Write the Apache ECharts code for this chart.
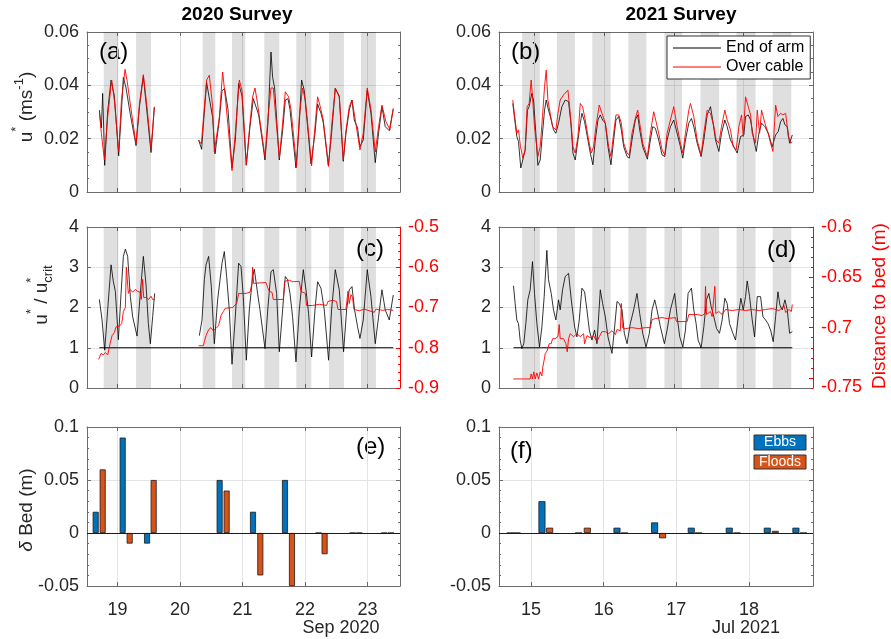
<!DOCTYPE html>
<html>
<head>
<meta charset="utf-8">
<title>Survey shear velocity and bed change</title>
<script src="https://cdn.jsdelivr.net/npm/echarts@6/dist/echarts.min.js"></script>
<style>
  html, body { margin: 0; padding: 0; background: #fff; }
  #chart { width: 891px; height: 639px; }
</style>
</head>
<body>
<div id="chart"></div>
<script>
// ---- data (days of month) ----
const ticks2020 = [19, 20, 21, 22, 23];
const ticks2021 = [15, 16, 17, 18];

const bands2020 = [[18.777, 19.012], [19.295, 19.535], [20.361, 20.564], [20.831, 21.044],
  [21.348, 21.588], [21.860, 22.100], [22.383, 22.623], [22.895, 23.135]];
const bands2021 = [[14.822, 15.077], [15.321, 15.580], [15.830, 16.094], [16.348, 16.607],
  [16.866, 17.120], [17.384, 17.652], [17.902, 18.175], [18.420, 18.688]];

// u* (m/s), 2020
const endOfArm2020 = [
  [18.708, 0.0307], [18.74, 0.024], [18.761, 0.037], [18.777, 0.024], [18.793, 0.010], [18.84, 0.030],
  [18.895, 0.042], [18.948, 0.036], [19.017, 0.0136], [19.06, 0.030], [19.092, 0.043], [19.135, 0.039],
  [19.204, 0.029], [19.295, 0.0174], [19.35, 0.032], [19.412, 0.0434], [19.47, 0.030], [19.535, 0.0148],
  [19.588, 0.0317], [20.0, null],
  [20.297, 0.0195], [20.345, 0.016], [20.372, 0.025], [20.425, 0.041], [20.457, 0.041], [20.521, 0.028],
  [20.559, 0.0143], [20.628, 0.027], [20.671, 0.038], [20.713, 0.0388], [20.767, 0.031], [20.831, 0.009],
  [20.884, 0.0195], [20.937, 0.0407], [20.991, 0.036], [21.060, 0.010], [21.119, 0.0245], [21.172, 0.035],
  [21.204, 0.0345], [21.257, 0.029], [21.359, 0.012], [21.407, 0.026], [21.455, 0.0525], [21.481, 0.043],
  [21.513, 0.039], [21.588, 0.012], [21.641, 0.023], [21.684, 0.0345], [21.727, 0.035], [21.759, 0.031],
  [21.855, 0.009], [21.908, 0.026], [21.945, 0.042], [21.988, 0.038], [22.041, 0.0245], [22.095, 0.0106],
  [22.159, 0.022], [22.201, 0.033], [22.255, 0.0295], [22.292, 0.026], [22.372, 0.010], [22.425, 0.022],
  [22.484, 0.0388], [22.548, 0.0357], [22.612, 0.0115], [22.655, 0.022], [22.708, 0.0307], [22.751, 0.0345],
  [22.788, 0.027], [22.841, 0.024], [22.879, 0.017], [22.932, 0.0195], [22.996, 0.0382], [23.055, 0.0295],
  [23.124, 0.011], [23.177, 0.022], [23.231, 0.032], [23.284, 0.0245], [23.348, 0.023], [23.412, 0.031]
];
const overCable2020 = [
  [18.708, 0.0298], [18.74, 0.022], [18.788, 0.012], [18.84, 0.028], [18.905, 0.042], [18.95, 0.034],
  [19.017, 0.015], [19.06, 0.034], [19.119, 0.046], [19.15, 0.042], [19.215, 0.031], [19.295, 0.018],
  [19.35, 0.033], [19.412, 0.044], [19.47, 0.032], [19.535, 0.016], [19.588, 0.032], [20.0, null],
  [20.297, 0.0195], [20.34, 0.018], [20.425, 0.042], [20.468, 0.0438], [20.521, 0.032], [20.548, 0.015],
  [20.628, 0.028], [20.681, 0.045], [20.735, 0.033], [20.831, 0.008], [20.884, 0.022], [20.948, 0.042],
  [20.991, 0.038], [21.060, 0.0102], [21.119, 0.0258], [21.161, 0.0357], [21.199, 0.039], [21.241, 0.033],
  [21.359, 0.0133], [21.407, 0.028], [21.455, 0.039], [21.492, 0.039], [21.588, 0.0127], [21.641, 0.0258],
  [21.684, 0.0376], [21.737, 0.0357], [21.775, 0.031], [21.865, 0.0096], [21.908, 0.028], [21.961, 0.039],
  [22.004, 0.0345], [22.041, 0.026], [22.105, 0.0098], [22.159, 0.0245], [22.201, 0.0357], [22.244, 0.032],
  [22.292, 0.027], [22.377, 0.0096], [22.425, 0.0245], [22.484, 0.039], [22.548, 0.036], [22.612, 0.012],
  [22.655, 0.023], [22.708, 0.032], [22.751, 0.0345], [22.788, 0.0295], [22.879, 0.0158], [22.932, 0.022],
  [22.996, 0.039], [23.055, 0.031], [23.124, 0.015], [23.177, 0.0245], [23.231, 0.0326], [23.295, 0.0264],
  [23.359, 0.0233], [23.412, 0.0314]
];

// u* (m/s), 2021
const endOfArm2021 = [
  [14.688, 0.0332], [14.722, 0.0258], [14.746, 0.0208], [14.770, 0.0189], [14.803, 0.009], [14.827, 0.0086],
  [14.866, 0.0158], [14.899, 0.0307], [14.923, 0.032], [14.962, 0.037], [14.986, 0.0345], [15.019, 0.022],
  [15.048, 0.010], [15.082, 0.012], [15.106, 0.0195], [15.144, 0.0307], [15.168, 0.0345], [15.201, 0.0307],
  [15.240, 0.027], [15.273, 0.0233], [15.307, 0.022], [15.345, 0.0258], [15.393, 0.032], [15.441, 0.0345],
  [15.489, 0.0339], [15.523, 0.0258], [15.552, 0.0146], [15.585, 0.012], [15.624, 0.0195], [15.657, 0.0258],
  [15.681, 0.0295], [15.719, 0.0264], [15.767, 0.0195], [15.801, 0.0146], [15.839, 0.0102], [15.873, 0.0195],
  [15.911, 0.027], [15.945, 0.0289], [15.978, 0.027], [16.017, 0.0258], [16.055, 0.017], [16.098, 0.0102],
  [16.137, 0.0195], [16.170, 0.027], [16.209, 0.0283], [16.247, 0.0233], [16.281, 0.017], [16.329, 0.0133],
  [16.362, 0.0127], [16.400, 0.0195], [16.448, 0.027], [16.482, 0.0289], [16.511, 0.0233], [16.554, 0.017],
  [16.621, 0.0123], [16.664, 0.0195], [16.698, 0.0245], [16.736, 0.0239], [16.784, 0.0195], [16.832, 0.0139],
  [16.871, 0.0133], [16.904, 0.0195], [16.952, 0.0245], [17.000, 0.027], [17.048, 0.022], [17.096, 0.017],
  [17.130, 0.0127], [17.168, 0.0195], [17.216, 0.0258], [17.254, 0.0276], [17.288, 0.0245], [17.336, 0.0183],
  [17.393, 0.0133], [17.432, 0.0195], [17.480, 0.0289], [17.528, 0.032], [17.566, 0.0258], [17.600, 0.0195],
  [17.648, 0.0152], [17.686, 0.022], [17.734, 0.027], [17.767, 0.0245], [17.815, 0.0195], [17.863, 0.017],
  [17.911, 0.0146], [17.959, 0.0208], [18.007, 0.0214], [18.031, 0.0283], [18.070, 0.0289], [18.103, 0.027],
  [18.151, 0.0195], [18.185, 0.0152], [18.223, 0.022], [18.261, 0.0258], [18.309, 0.0245], [18.357, 0.022],
  [18.415, 0.017], [18.463, 0.0214], [18.501, 0.0227], [18.535, 0.0264], [18.568, 0.0276], [18.597, 0.0252],
  [18.631, 0.0245], [18.664, 0.0183], [18.703, 0.0214]
];
const overCable2021 = [
  [14.688, 0.0345], [14.722, 0.027], [14.746, 0.022], [14.770, 0.0233], [14.799, 0.017], [14.832, 0.0127],
  [14.866, 0.0158], [14.894, 0.032], [14.923, 0.0332], [14.952, 0.042], [14.971, 0.0357], [15.000, 0.0245],
  [15.048, 0.0133], [15.082, 0.017], [15.115, 0.0283], [15.144, 0.0395], [15.168, 0.0457], [15.192, 0.0345],
  [15.225, 0.0295], [15.259, 0.0245], [15.307, 0.0233], [15.336, 0.0295], [15.369, 0.0345], [15.417, 0.0364],
  [15.480, 0.0382], [15.513, 0.0295], [15.552, 0.017], [15.585, 0.0146], [15.624, 0.0208], [15.657, 0.0332],
  [15.691, 0.032], [15.729, 0.027], [15.777, 0.0195], [15.815, 0.0146], [15.849, 0.017], [15.882, 0.0245],
  [15.930, 0.0326], [15.969, 0.0295], [16.017, 0.0258], [16.065, 0.017], [16.098, 0.0133], [16.137, 0.022],
  [16.170, 0.0289], [16.209, 0.0289], [16.247, 0.0258], [16.281, 0.0183], [16.329, 0.0146], [16.362, 0.0139],
  [16.400, 0.022], [16.448, 0.0276], [16.482, 0.0307], [16.511, 0.0258], [16.554, 0.0183], [16.621, 0.0133],
  [16.664, 0.022], [16.712, 0.0301], [16.746, 0.0264], [16.784, 0.022], [16.832, 0.0158], [16.871, 0.0139],
  [16.904, 0.022], [16.952, 0.027], [17.000, 0.032], [17.048, 0.0245], [17.096, 0.0183], [17.130, 0.0146],
  [17.168, 0.022], [17.216, 0.0307], [17.240, 0.0332], [17.288, 0.0283], [17.336, 0.0195], [17.393, 0.0139],
  [17.432, 0.022], [17.480, 0.0307], [17.528, 0.0295], [17.576, 0.0245], [17.609, 0.0195], [17.648, 0.0183],
  [17.686, 0.0245], [17.734, 0.0307], [17.767, 0.027], [17.815, 0.0233], [17.854, 0.017], [17.897, 0.0158],
  [17.935, 0.0245], [17.974, 0.0289], [17.998, 0.0208], [18.031, 0.0357], [18.070, 0.032], [18.103, 0.0289],
  [18.127, 0.022], [18.175, 0.0183], [18.199, 0.0307], [18.233, 0.022], [18.261, 0.0307], [18.309, 0.0258],
  [18.357, 0.022], [18.391, 0.0183], [18.424, 0.0152], [18.463, 0.0326], [18.496, 0.0283], [18.535, 0.0295],
  [18.568, 0.0289], [18.607, 0.0295], [18.645, 0.0208], [18.679, 0.0183], [18.703, 0.0189]
];

// u*/u*crit, 2020 and 2021
const ratio2020 = [
  [18.708, 2.2], [18.751, 1.69], [18.793, 0.94], [18.841, 1.94], [18.895, 3.06], [18.932, 2.64],
  [18.964, 2.4], [19.012, 1.2], [19.055, 2.35], [19.092, 3.27], [19.124, 3.45], [19.161, 3.27],
  [19.204, 2.27], [19.241, 1.77], [19.311, 1.29], [19.359, 2.27], [19.412, 3.27], [19.455, 2.56],
  [19.492, 1.6], [19.524, 1.1], [19.561, 1.77], [19.593, 2.35], [20.0, null],
  [20.308, 1.3], [20.351, 1.69], [20.388, 2.69], [20.415, 3.06], [20.457, 3.27], [20.500, 2.52],
  [20.548, 1.1], [20.601, 2.19], [20.671, 3.1], [20.708, 3.39], [20.745, 2.77], [20.788, 1.94],
  [20.831, 0.59], [20.884, 1.77], [20.937, 3.1], [20.975, 3.02], [21.012, 2.27], [21.060, 0.69],
  [21.108, 1.94], [21.161, 2.77], [21.188, 2.95], [21.241, 2.35], [21.279, 1.94], [21.359, 0.98],
  [21.407, 2.02], [21.455, 2.89], [21.492, 2.94], [21.545, 2.35], [21.588, 0.9], [21.641, 1.94],
  [21.684, 2.77], [21.721, 2.69], [21.759, 2.35], [21.801, 1.77], [21.855, 0.65], [21.908, 1.94],
  [21.972, 2.94], [22.015, 2.44], [22.057, 1.85], [22.105, 0.77], [22.159, 1.94], [22.201, 2.64],
  [22.255, 2.48], [22.308, 1.94], [22.377, 0.69], [22.425, 1.94], [22.484, 2.94], [22.548, 2.44],
  [22.617, 0.9], [22.665, 1.94], [22.708, 2.44], [22.751, 2.52], [22.793, 1.94], [22.841, 1.52],
  [22.879, 1.23], [22.932, 1.69], [22.996, 2.94], [23.055, 2.27], [23.124, 1.1], [23.177, 1.77],
  [23.231, 2.44], [23.284, 1.94], [23.348, 1.69], [23.412, 2.31]
];
const ratio2021 = [
  [14.698, 2.54], [14.722, 2.1], [14.746, 1.69], [14.770, 1.6], [14.794, 1.19], [14.818, 0.98],
  [14.846, 1.1], [14.875, 1.6], [14.904, 2.19], [14.938, 2.44], [14.971, 3.14], [15.000, 2.35],
  [15.034, 1.6], [15.072, 1.02], [15.106, 1.52], [15.139, 2.27], [15.177, 3.42], [15.201, 2.69],
  [15.240, 2.35], [15.273, 1.94], [15.307, 1.69], [15.345, 2.19], [15.369, 1.94], [15.403, 2.44],
  [15.441, 2.77], [15.489, 2.85], [15.528, 2.19], [15.576, 1.52], [15.609, 1.27], [15.643, 1.69],
  [15.681, 2.48], [15.719, 2.39], [15.753, 1.94], [15.787, 1.44], [15.825, 1.19], [15.863, 1.44],
  [15.897, 1.1], [15.945, 2.44], [15.978, 2.1], [16.017, 1.77], [16.055, 1.27], [16.113, 0.86],
  [16.151, 1.52], [16.185, 2.15], [16.218, 2.1], [16.257, 1.94], [16.290, 1.36], [16.329, 1.1],
  [16.376, 1.6], [16.424, 1.94], [16.472, 2.35], [16.511, 1.85], [16.554, 1.36], [16.602, 1.02],
  [16.650, 1.36], [16.688, 1.94], [16.727, 2.19], [16.760, 1.94], [16.808, 1.52], [16.866, 1.1],
  [16.904, 1.44], [16.952, 1.94], [17.014, 2.35], [17.048, 1.77], [17.086, 1.27], [17.130, 1.02],
  [17.168, 1.44], [17.206, 2.35], [17.254, 2.48], [17.288, 1.94], [17.321, 1.6], [17.350, 1.19],
  [17.393, 1.0], [17.432, 1.52], [17.470, 2.19], [17.504, 2.35], [17.537, 2.02], [17.576, 1.77],
  [17.614, 1.48], [17.657, 1.36], [17.695, 1.69], [17.734, 2.23], [17.767, 2.1], [17.801, 1.6],
  [17.849, 1.36], [17.887, 1.19], [17.926, 1.77], [17.964, 2.23], [17.998, 1.94], [18.031, 2.27],
  [18.055, 2.66], [18.089, 2.27], [18.127, 1.69], [18.161, 1.27], [18.199, 2.27], [18.247, 2.27],
  [18.281, 1.77], [18.319, 1.69], [18.353, 1.6], [18.391, 1.44], [18.429, 1.15], [18.463, 1.77],
  [18.496, 2.39], [18.525, 2.06], [18.559, 1.94], [18.597, 2.19], [18.631, 1.94], [18.664, 1.36],
  [18.703, 1.4]
];
const critLine2020 = [18.708, 23.412];
const critLine2021 = [14.698, 18.703];

// distance to bed (m)
const distBed2020 = [
  [18.697, -0.829], [18.729, -0.829], [18.735, -0.814], [18.772, -0.818], [18.804, -0.812], [18.841, -0.818],
  [18.868, -0.814], [18.879, -0.79], [18.911, -0.77], [18.948, -0.762], [18.975, -0.748], [19.001, -0.752],
  [19.028, -0.746], [19.065, -0.74], [19.092, -0.71], [19.124, -0.70], [19.140, -0.60], [19.172, -0.665],
  [19.199, -0.655], [19.241, -0.662], [19.284, -0.655], [19.321, -0.66], [19.359, -0.662], [19.380, -0.68],
  [19.401, -0.63], [19.417, -0.675], [19.455, -0.675], [19.497, -0.68], [19.535, -0.672], [19.561, -0.68],
  [19.593, -0.68], [20.0, null],
  [20.297, -0.795], [20.372, -0.795], [20.388, -0.785], [20.415, -0.77], [20.457, -0.755], [20.495, -0.75],
  [20.532, -0.758], [20.575, -0.752], [20.617, -0.745], [20.655, -0.72], [20.692, -0.71], [20.724, -0.702],
  [20.841, -0.70], [20.905, -0.69], [20.937, -0.665], [21.055, -0.665], [21.119, -0.662], [21.151, -0.64],
  [21.161, -0.60], [21.177, -0.64], [21.375, -0.638], [21.401, -0.65], [21.428, -0.66], [21.471, -0.662],
  [21.492, -0.68], [21.652, -0.68], [21.673, -0.635], [21.748, -0.632], [21.801, -0.636], [21.908, -0.635],
  [21.935, -0.66], [22.004, -0.665], [22.025, -0.695], [22.121, -0.695], [22.228, -0.692], [22.345, -0.695],
  [22.367, -0.685], [22.441, -0.682], [22.505, -0.685], [22.527, -0.705], [22.655, -0.705], [22.687, -0.66],
  [22.708, -0.69], [22.735, -0.668], [22.761, -0.675], [22.783, -0.705], [22.868, -0.708], [22.948, -0.704],
  [23.028, -0.708], [23.108, -0.712], [23.135, -0.704], [23.241, -0.707], [23.321, -0.705], [23.412, -0.707]
];
const distBed2021 = [
  [14.698, -0.751], [14.938, -0.751], [14.952, -0.746], [14.971, -0.751], [14.990, -0.744], [15.009, -0.751],
  [15.034, -0.745], [15.058, -0.751], [15.082, -0.744], [15.106, -0.748], [15.120, -0.739], [15.144, -0.730],
  [15.153, -0.726], [15.182, -0.723], [15.211, -0.716], [15.240, -0.716], [15.259, -0.711], [15.297, -0.711],
  [15.336, -0.709], [15.355, -0.697], [15.369, -0.711], [15.417, -0.711], [15.451, -0.716], [15.470, -0.724],
  [15.489, -0.711], [15.513, -0.706], [15.561, -0.709], [15.609, -0.706], [15.657, -0.709], [15.705, -0.706],
  [15.719, -0.716], [15.753, -0.708], [15.801, -0.710], [15.849, -0.708], [15.897, -0.714], [15.930, -0.709],
  [15.969, -0.704], [16.017, -0.704], [16.065, -0.706], [16.113, -0.703], [16.161, -0.707], [16.185, -0.702],
  [16.233, -0.703], [16.247, -0.676], [16.262, -0.700], [16.305, -0.701], [16.400, -0.700], [16.496, -0.701],
  [16.592, -0.700], [16.664, -0.700], [16.688, -0.692], [16.736, -0.691], [16.832, -0.690], [16.904, -0.691],
  [17.024, -0.690], [17.038, -0.694], [17.192, -0.694], [17.216, -0.687], [17.336, -0.687], [17.408, -0.688],
  [17.446, -0.686], [17.456, -0.659], [17.470, -0.687], [17.528, -0.684], [17.551, -0.689], [17.590, -0.659],
  [17.604, -0.686], [17.647, -0.684], [17.695, -0.687], [17.744, -0.682], [17.839, -0.683], [17.935, -0.682],
  [18.031, -0.683], [18.127, -0.682], [18.223, -0.683], [18.319, -0.682], [18.415, -0.681], [18.511, -0.683],
  [18.559, -0.680], [18.583, -0.678], [18.607, -0.685], [18.655, -0.682], [18.689, -0.684], [18.703, -0.677]
];

// bed change per half tide (m)
const ebbDays2020 = [18.649, 19.081, 19.471, 20.633, 21.167, 21.679, 22.217, 22.761, 23.268];
const ebbBed2020 = [0.02, 0.09, -0.01, 0.05, 0.02, 0.05, 0, 0, 0];
const floodDays2020 = [18.761, 19.193, 19.577, 20.745, 21.284, 21.791, 22.313, 22.868, 23.375];
const floodBed2020 = [0.06, -0.01, 0.05, 0.04, -0.04, -0.05, -0.02, 0, 0];
const ebbDays2021 = [14.716, 15.151, 15.656, 16.183, 16.701, 17.205, 17.728, 18.251, 18.645];
const ebbBed2021 = [0, 0.03, 0, 0.005, 0.01, 0.005, 0.005, 0.005, 0.005];
const floodDays2021 = [14.807, 15.257, 15.775, 16.284, 16.811, 17.306, 17.834, 18.361, 18.75];
const floodBed2021 = [0, 0.005, 0.005, 0, -0.005, 0, 0, 0.002, 0];

// right-hand tick labels of panel (d)
const distTicks2021 = [-0.75, -0.7, -0.65, -0.6];

// ---- styling ----
const FAM = '"Liberation Sans", Arial, Helvetica, sans-serif';
const AX = '#6b6b6b';
const TXT = '#262626';
const GRIDC = '#e4e4e4';
const RED = '#ff0000';
const BLUE = '#0072BD';
const ORANGE = '#D95319';

function xAxes(grid, min, max, ticks, labels) {
  return [
    {
      type: 'value', gridIndex: grid, min: min, max: max, position: 'bottom',
      axisLine: { show: true, onZero: false, lineStyle: { color: AX } },
      axisTick: { show: true, inside: true, length: 4, customValues: ticks, lineStyle: { color: AX } },
      axisLabel: { show: labels, customValues: ticks, fontSize: 18, fontFamily: FAM, color: TXT, margin: 15 },
      splitLine: { show: true, lineStyle: { color: GRIDC } }
    },
    {
      type: 'value', gridIndex: grid, min: min, max: max, position: 'top',
      axisLine: { show: true, onZero: false, lineStyle: { color: AX } },
      axisTick: { show: true, inside: true, length: 4, customValues: ticks, lineStyle: { color: AX } },
      axisLabel: { show: false },
      splitLine: { show: false }
    }
  ];
}

function yLeft(grid, min, max, interval, minor) {
  return {
    type: 'value', gridIndex: grid, min: min, max: max, interval: interval, position: 'left',
    axisLine: { show: true, onZero: false, lineStyle: { color: AX } },
    axisTick: { show: true, inside: true, length: 4, lineStyle: { color: AX } },
    minorTick: { show: minor > 0, splitNumber: minor || 5, length: 2, lineStyle: { color: AX } },
    axisLabel: { fontSize: 18, fontFamily: FAM, color: TXT, margin: 8 },
    splitLine: { show: true, lineStyle: { color: GRIDC } }
  };
}

function yMirror(grid, min, max, interval, minor) {
  return {
    type: 'value', gridIndex: grid, min: min, max: max, interval: interval, position: 'right',
    axisLine: { show: true, onZero: false, lineStyle: { color: AX } },
    axisTick: { show: true, inside: true, length: 4, lineStyle: { color: AX } },
    minorTick: { show: minor > 0, splitNumber: minor || 5, length: 2, lineStyle: { color: AX } },
    axisLabel: { show: false },
    splitLine: { show: false }
  };
}

const grids = [
  { left: 87, top: 32, width: 313, height: 160 },
  { left: 499, top: 32, width: 314, height: 160 },
  { left: 87, top: 227, width: 313, height: 161 },
  { left: 499, top: 227, width: 314, height: 161 },
  { left: 87, top: 427, width: 313, height: 159 },
  { left: 499, top: 427, width: 314, height: 159 }
];

const xAxisList = [].concat(
  xAxes(0, 18.51, 23.52, ticks2020, false),
  xAxes(1, 14.49, 19.0, ticks2021, false),
  xAxes(2, 18.51, 23.52, ticks2020, false),
  xAxes(3, 14.49, 19.0, ticks2021, false),
  xAxes(4, 18.51, 23.52, ticks2020, true),
  xAxes(5, 14.56, 18.88, ticks2021, true)
);

const yAxisList = [
  yLeft(0, 0, 0.06, 0.02, 4),            // 0
  yMirror(0, 0, 0.06, 0.02, 4),          // 1
  yLeft(1, 0, 0.06, 0.02, 4),            // 2
  yMirror(1, 0, 0.06, 0.02, 4),          // 3
  yLeft(2, 0, 4, 1, 0),                  // 4
  {                                      // 5 red right (c)
    type: 'value', gridIndex: 2, min: -0.9, max: -0.5, interval: 0.1, position: 'right',
    axisLine: { show: true, onZero: false, lineStyle: { color: RED } },
    axisTick: { show: true, inside: true, length: 4, lineStyle: { color: RED } },
    minorTick: { show: true, splitNumber: 5, length: 2, lineStyle: { color: RED } },
    axisLabel: { fontSize: 18, fontFamily: FAM, color: RED, margin: 8 },
    splitLine: { show: false }
  },
  yLeft(3, 0, 4, 1, 0),                  // 6
  {                                      // 7 red right (d)
    type: 'value', gridIndex: 3, min: -0.76, max: -0.6, position: 'right',
    axisLine: { show: true, onZero: false, lineStyle: { color: RED } },
    axisTick: { show: true, inside: true, length: 4, customValues: distTicks2021, lineStyle: { color: RED } },
    axisLabel: {
      fontSize: 18, fontFamily: FAM, color: RED, margin: 8, customValues: distTicks2021,
      formatter: v => (Math.abs(v + 0.75) < 1e-6 ? '{low|-0.75}' : String(v)),
      rich: { low: { fontSize: 18, fontFamily: FAM, color: RED, padding: [18, 0, 0, 0] } }
    },
    splitLine: { show: false }
  },
  {                                      // 8 red minor ticks (d)
    type: 'value', gridIndex: 3, min: -0.76, max: -0.6, interval: 0.01, position: 'right',
    axisLine: { show: false, onZero: false },
    axisTick: { show: true, inside: true, length: 2, lineStyle: { color: RED } },
    axisLabel: { show: false },
    splitLine: { show: false }
  },
  yLeft(4, -0.05, 0.1, 0.05, 5),         // 9
  yMirror(4, -0.05, 0.1, 0.05, 5),       // 10
  yLeft(5, -0.05, 0.1, 0.05, 5),         // 11
  yMirror(5, -0.05, 0.1, 0.05, 5)        // 12
];

function bandSeries(xi, yi, bands) {
  return {
    type: 'line', xAxisIndex: xi, yAxisIndex: yi, data: [], silent: true, z: 1,
    markArea: {
      silent: true,
      itemStyle: { color: 'rgba(0,0,0,0.125)' },
      data: bands.map(b => [{ xAxis: b[0] }, { xAxis: b[1] }])
    }
  };
}

function lineSeries(name, xi, yi, data, color, width) {
  return {
    name: name, type: 'line', xAxisIndex: xi, yAxisIndex: yi, data: data,
    symbol: 'none', showSymbol: false, connectNulls: false, silent: true, z: 3,
    lineStyle: { color: color, width: width }, itemStyle: { color: color }
  };
}

function critSeries(xi, yi, span) {
  return lineSeries('crit', xi, yi, [[span[0], 1], [span[1], 1]], '#000', 1);
}

function barSeries(name, xi, yi, days, vals, color, width, base) {
  const s = {
    name: name, type: 'bar', xAxisIndex: xi, yAxisIndex: yi,
    data: days.map((d, i) => [d, vals[i]]),
    barWidth: width, barGap: '-100%', silent: true, z: 3,
    itemStyle: { color: color, borderColor: '#1a1a1a', borderWidth: 0.8 }
  };
  if (base) {
    s.markLine = {
      silent: true, symbol: 'none', label: { show: false },
      lineStyle: { color: '#1a1a1a', width: 1, type: 'solid' },
      data: [{ yAxis: 0 }]
    };
  }
  return s;
}

const series = [
  bandSeries(0, 0, bands2020),
  lineSeries('End of arm', 0, 0, endOfArm2020, '#000', 0.8),
  lineSeries('Over cable', 0, 0, overCable2020, RED, 0.9),
  bandSeries(2, 2, bands2021),
  lineSeries('End of arm', 2, 2, endOfArm2021, '#000', 0.8),
  lineSeries('Over cable', 2, 2, overCable2021, RED, 0.9),
  bandSeries(4, 4, bands2020),
  lineSeries('ratio2020', 4, 4, ratio2020, '#000', 0.8),
  critSeries(4, 4, critLine2020),
  lineSeries('dist2020', 4, 5, distBed2020, RED, 0.9),
  bandSeries(6, 6, bands2021),
  lineSeries('ratio2021', 6, 6, ratio2021, '#000', 0.8),
  critSeries(6, 6, critLine2021),
  lineSeries('dist2021', 6, 7, distBed2021, RED, 0.9),
  barSeries('Ebbs', 8, 9, ebbDays2020, ebbBed2020, BLUE, 6, true),
  barSeries('Floods', 8, 9, floodDays2020, floodBed2020, ORANGE, 6, false),
  barSeries('Ebbs', 10, 11, ebbDays2021, ebbBed2021, BLUE, 7, true),
  barSeries('Floods', 10, 11, floodDays2021, floodBed2021, ORANGE, 7, false)
];

function txt(x, y, text, font, fill, align) {
  return {
    type: 'text', x: x, y: y, silent: true,
    style: { text: text, font: font, fill: fill || '#000', align: align || 'center', verticalAlign: 'middle' }
  };
}

// rotated axis title built from pieces (main text, super- and subscripts)
const measureCtx = document.createElement('canvas').getContext('2d');
function vlabel(cx, cy, parts, color) {
  const pieces = parts.map(p => {
    const font = (p.italic ? 'italic ' : '') + p.size + 'px ' + FAM;
    measureCtx.font = font;
    return { text: p.t, font: font, dy: p.dy || 0, w: measureCtx.measureText(p.t).width, keep: p.keep };
  });
  let total = 0;
  pieces.forEach(p => { if (!p.keep) total += p.w; });
  let x = -total / 2;
  const children = pieces.map(p => {
    const el = {
      type: 'text', x: x, y: p.dy, silent: true,
      style: { text: p.text, font: p.font, fill: color, align: 'left', verticalAlign: 'middle' }
    };
    if (!p.keep) x += p.w;
    return el;
  });
  return { type: 'group', x: cx, y: cy, rotation: Math.PI / 2, silent: true, children: children };
}

const graphics = [
  txt(237, 15, '2020 Survey', 'bold 19px ' + FAM),
  txt(681, 15, '2021 Survey', 'bold 19px ' + FAM),
  txt(99, 52, '(a)', '24px ' + FAM, '#000', 'left'),
  txt(511, 52, '(b)', '24px ' + FAM, '#000', 'left'),
  txt(356, 249, '(c)', '24px ' + FAM, '#000', 'left'),
  txt(767, 250, '(d)', '24px ' + FAM, '#000', 'left'),
  txt(356, 447, '(e)', '24px ' + FAM, '#000', 'left'),
  txt(510, 451, '(f)', '24px ' + FAM, '#000', 'left'),
  txt(341, 628, 'Sep 2020', '18px ' + FAM, TXT),
  txt(746, 628, 'Jul 2021', '18px ' + FAM, TXT),
  vlabel(27, 107, [
    { t: 'u', size: 19 }, { t: '*', size: 13, dy: -11 }, { t: ' (ms', size: 19 },
    { t: '-1', size: 13, dy: -8 }, { t: ')', size: 19 }
  ], TXT),
  vlabel(42, 295, [
    { t: 'u', size: 19 }, { t: '*', size: 13, dy: -11 }, { t: ' / u', size: 19 },
    { t: '*', size: 13, dy: -11, keep: true }, { t: 'crit', size: 13, dy: 6 }
  ], TXT),
  vlabel(27, 510, [{ t: 'δ', size: 19, italic: true }, { t: ' Bed (m)', size: 19 }], TXT),
  vlabel(880, 306, [{ t: 'Distance to bed (m)', size: 19 }], RED),
  // legend of panel (f)
  { type: 'rect', shape: { x: 754, y: 435, width: 52, height: 15 }, style: { fill: BLUE, stroke: '#333', lineWidth: 1 }, silent: true },
  txt(780, 442.5, 'Ebbs', '14px ' + FAM, '#fff'),
  { type: 'rect', shape: { x: 754, y: 455, width: 52, height: 14 }, style: { fill: ORANGE, stroke: '#333', lineWidth: 1 }, silent: true },
  txt(780, 462, 'Floods', '14px ' + FAM, '#fff')
];

const chart = echarts.init(document.getElementById('chart'), null, { renderer: 'canvas' });
chart.setOption({
  animation: false,
  backgroundColor: '#fff',
  grid: grids,
  xAxis: xAxisList,
  yAxis: yAxisList,
  legend: {
    data: ['End of arm', 'Over cable'],
    orient: 'vertical', left: 667, top: 36,
    icon: 'rect', itemWidth: 48, itemHeight: 1,
    padding: [4, 6, 4, 6], itemGap: 3,
    backgroundColor: '#fff', borderColor: '#333', borderWidth: 1, borderRadius: 0,
    selectedMode: false,
    textStyle: { fontSize: 16, fontFamily: FAM, color: '#000' }
  },
  series: series,
  graphic: graphics
});
</script>
</body>
</html>
